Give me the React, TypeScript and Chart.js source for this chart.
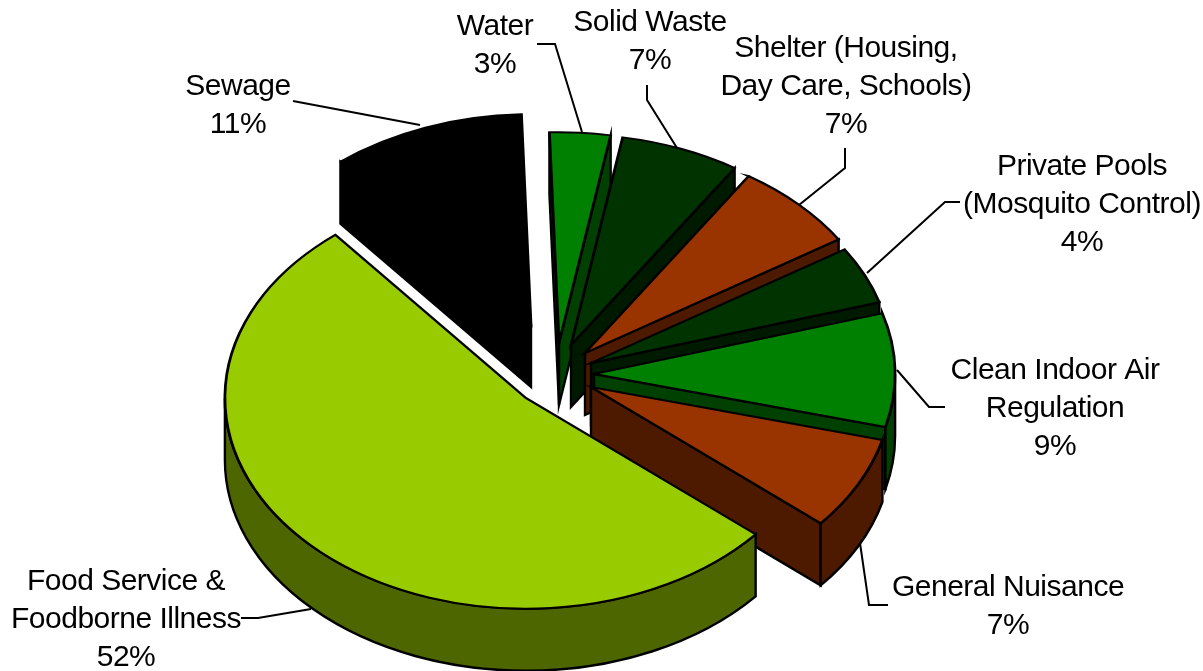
import React, { useEffect, useRef } from "react";
import { Chart, registerables } from "chart.js";

Chart.register(...registerables);

const categories = ["Food Service & Foodborne Illness", "Sewage", "Water", "Solid Waste", "Shelter (Housing, Day Care, Schools)", "Private Pools (Mosquito Control)", "Clean Indoor Air Regulation", "General Nuisance"];
const sliceShares = [52.9, 10.4, 3.25, 6.4, 6.8, 4.4, 8.7, 7.15];
const percentLabels = ["52%", "11%", "3%", "7%", "7%", "4%", "9%", "7%"];

const topColors = ["#99CC00", "#000000", "#008000", "#003300", "#993300", "#003300", "#008000", "#993300"];
const wallColors = ["#4D6600", "#000000", "#004000", "#001A00", "#4D1A00", "#001A00", "#004000", "#4D1A00"];

// Exploded position of each slice's tip (layout only)
const tipX = [526, 531, 559, 571, 585, 591, 594, 591];
const tipY = [398, 325, 343, 345, 353, 363, 374, 387];
const drawOrder = [1, 2, 3, 4, 5, 6, 7, 0];
const SQUASH = 0.7;
const DEPTH = 62;
const ROTATION = 130.3;

const labelBlocks = [
  { x: 126, y: 582, lines: ["Food Service &", "Foodborne Illness", percentLabels[0]] },
  { x: 238, y: 87, lines: ["Sewage", percentLabels[1]] },
  { x: 495, y: 27, lines: ["Water", percentLabels[2]] },
  { x: 650, y: 23, lines: ["Solid Waste", percentLabels[3]] },
  { x: 846, y: 49, lines: ["Shelter (Housing,", "Day Care, Schools)", percentLabels[4]] },
  { x: 1082, y: 167, lines: ["Private Pools", "(Mosquito Control)", percentLabels[5]] },
  { x: 1055, y: 371, lines: ["Clean Indoor Air", "Regulation", percentLabels[6]] },
  { x: 1008, y: 588, lines: ["General Nuisance", percentLabels[7]] },
];

const leaders = [
  [[241, 618], [258, 618], [311, 609]],
  [[293, 101], [420, 125]],
  [[537, 44], [555, 44], [582, 132]],
  [[647, 85], [647, 100], [677, 148]],
  [[845, 148], [845, 168], [799, 205]],
  [[960, 202], [945, 202], [867, 273]],
  [[897, 370], [929, 407], [945, 407]],
  [[860, 543], [869, 605], [888, 605]],
];

const TAU = Math.PI * 2;

function pie3dDraw(chart: any) {
  const ctx: CanvasRenderingContext2D = chart.ctx;
  const arcs = chart.getDatasetMeta(0).data;
  ctx.save();
  ctx.lineWidth = 2.4;
  ctx.strokeStyle = "#000";
  ctx.lineJoin = "miter";
  for (const i of drawOrder) {
    const arc = arcs[i];
    const ax = tipX[i];
    const ay = tipY[i];
    const r = arc.outerRadius;
    const t0 = arc.startAngle;
    const t1 = arc.endAngle;
    const px = (t: number) => ax + Math.cos(t) * r;
    const py = (t: number) => ay + Math.sin(t) * r * SQUASH;
    ctx.fillStyle = wallColors[i];

    const face = (t: number) => {
      ctx.beginPath();
      ctx.moveTo(ax, ay);
      ctx.lineTo(px(t), py(t));
      ctx.lineTo(px(t), py(t) + DEPTH);
      ctx.lineTo(ax, ay + DEPTH);
      ctx.closePath();
      ctx.fill();
      ctx.stroke();
    };
    if (Math.cos(t0) < 0) face(t0);
    if (Math.cos(t1) > 0) face(t1);

    // outer wall: part of the rim that faces the viewer (canvas angles 0..PI)
    for (const k of [-1, 0, 1]) {
      const a = Math.max(t0, k * TAU);
      const b = Math.min(t1, k * TAU + Math.PI);
      if (b > a) {
        ctx.beginPath();
        ctx.ellipse(ax, ay, r, r * SQUASH, 0, a, b);
        ctx.ellipse(ax, ay + DEPTH, r, r * SQUASH, 0, b, a, true);
        ctx.closePath();
        ctx.fill();
        ctx.stroke();
      }
    }

    ctx.save();
    ctx.translate(ax, ay);
    ctx.scale(1, SQUASH);
    ctx.translate(-arc.x, -arc.y);
    arc.draw(ctx);
    ctx.restore();
  }
  ctx.restore();
}

const pie3dPlugin = {
  id: "pie3d",
  beforeDatasetsDraw(chart: any) {
    pie3dDraw(chart);
    return false;
  },
  afterDraw(chart: any) {
    const ctx: CanvasRenderingContext2D = chart.ctx;
    ctx.save();
    ctx.strokeStyle = "#000";
    ctx.lineWidth = 2;
    for (const pts of leaders) {
      ctx.beginPath();
      pts.forEach((p, j) => (j ? ctx.lineTo(p[0], p[1]) : ctx.moveTo(p[0], p[1])));
      ctx.stroke();
    }
    ctx.fillStyle = "#000";
    ctx.font = '30px "Liberation Sans"';
    (ctx as any).letterSpacing = "-0.5px";
    ctx.textAlign = "center";
    ctx.textBaseline = "middle";
    for (const b of labelBlocks) {
      b.lines.forEach((t, j) => ctx.fillText(t, b.x, b.y + j * 38));
    }
    ctx.restore();
  },
};

export default function App() {
  const ref = useRef<HTMLCanvasElement>(null);
  useEffect(() => {
    const chart = new Chart(ref.current!, {
      type: "pie",
      data: {
        labels: categories,
        datasets: [{
          data: sliceShares,
          backgroundColor: topColors,
          borderColor: "#000",
          borderWidth: 2.8,
          borderJoinStyle: "miter",
        }],
      },
      options: {
        responsive: false,
        animation: false,
        devicePixelRatio: 1,
        rotation: ROTATION,
        layout: { padding: 33 },
        plugins: { legend: { display: false }, tooltip: { enabled: false }, title: { display: false } },
      },
      plugins: [pie3dPlugin],
    } as any);
    return () => chart.destroy();
  }, []);
  return <canvas ref={ref} width={1203} height={671} style={{ position: "absolute", left: 0, top: 0, display: "block" }} />;
}
